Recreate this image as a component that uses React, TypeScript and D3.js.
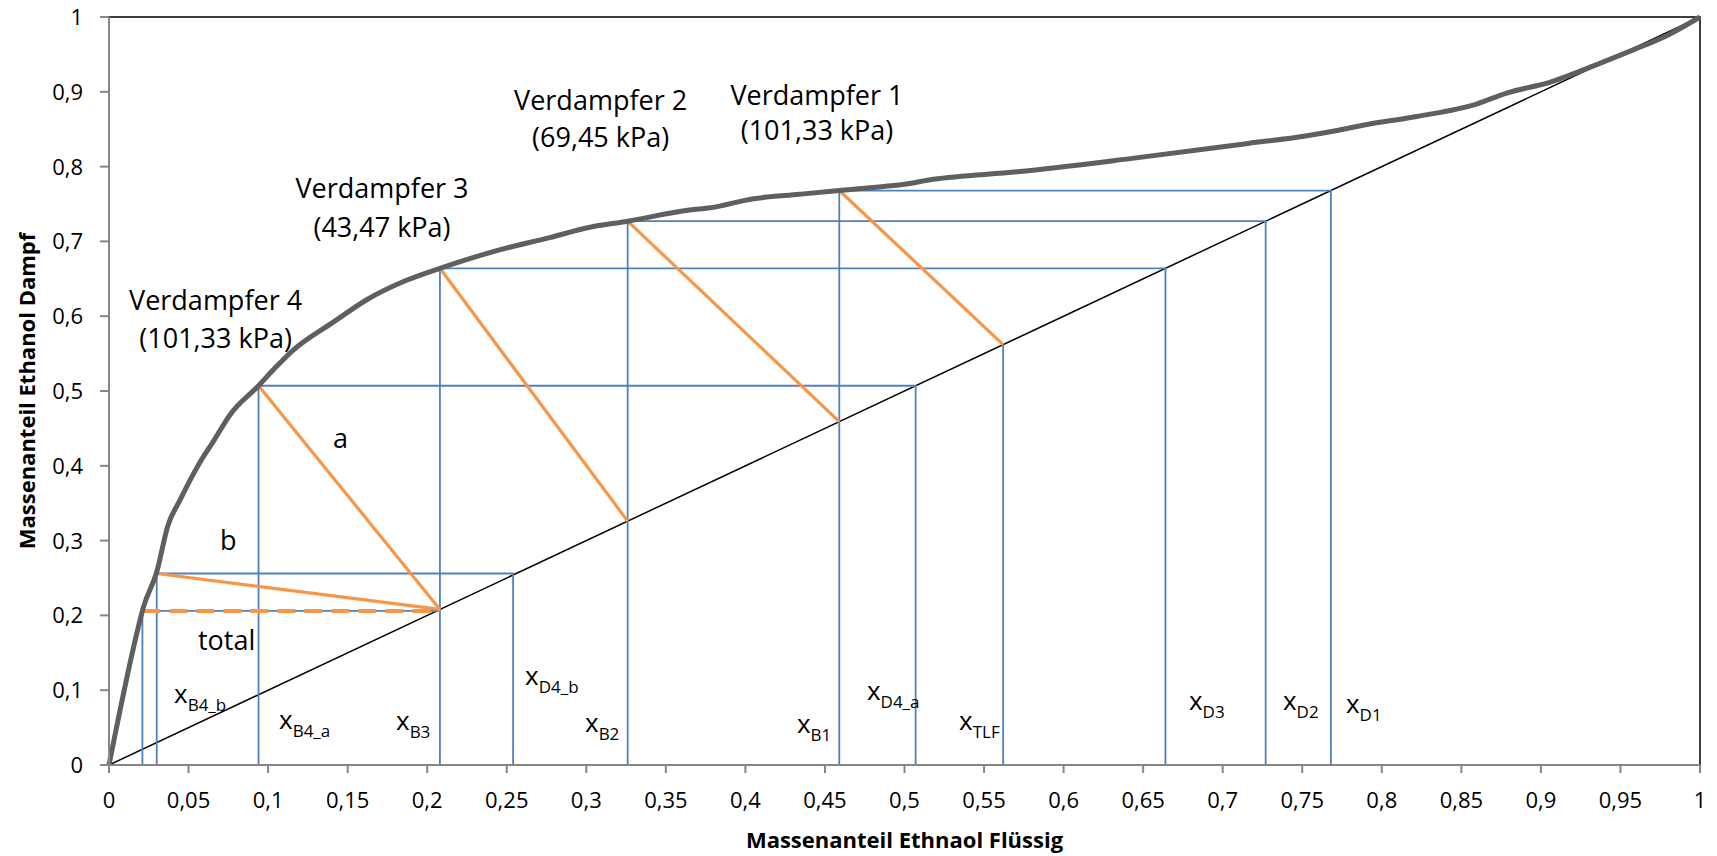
import React from "react";
import * as d3 from "d3";

const width = 1717;
const height = 856;
const margin = { top: 17, right: 17, bottom: 91, left: 109 };

// equilibrium curve (liquid x, vapour y)
const curveX = [0, 0.0185, 0.0215, 0.03, 0.037, 0.0446, 0.057, 0.066, 0.076, 0.094, 0.104, 0.116, 0.141, 0.162, 0.187, 0.208, 0.246, 0.277, 0.3, 0.326, 0.365, 0.378, 0.405, 0.434, 0.459, 0.48, 0.499, 0.518, 0.571, 0.643, 0.716, 0.752, 0.771, 0.79, 0.822, 0.86, 0.878, 0.906, 0.937, 0.958, 0.979, 1];
const curveY = [0, 0.185, 0.21, 0.258, 0.32, 0.354, 0.404, 0.434, 0.468, 0.507, 0.53, 0.555, 0.592, 0.622, 0.648, 0.664, 0.689, 0.705, 0.718, 0.727, 0.742, 0.745, 0.757, 0.763, 0.768, 0.772, 0.776, 0.783, 0.793, 0.811, 0.831, 0.841, 0.848, 0.856, 0.867, 0.884, 0.898, 0.913, 0.938, 0.956, 0.975, 1];

// evaporator stages: bottoms x, vapour y, distillate x, feed point on diagonal
const stageXB = [0.459, 0.326, 0.208, 0.094, 0.03];
const stageY = [0.768, 0.727, 0.664, 0.507, 0.256];
const stageXD = [0.768, 0.727, 0.664, 0.507, 0.254];
const stageFeed = [0.562, 0.459, 0.326, 0.208, 0.208];

// total
const totalX = 0.021;
const totalY = 0.206;
const totalEnd = 0.208;
const xTLF = 0.562;

const xTicks = [0, 0.05, 0.1, 0.15, 0.2, 0.25, 0.3, 0.35, 0.4, 0.45, 0.5, 0.55, 0.6, 0.65, 0.7, 0.75, 0.8, 0.85, 0.9, 0.95, 1];
const yTicks = [0, 0.1, 0.2, 0.3, 0.4, 0.5, 0.6, 0.7, 0.8, 0.9, 1];

// annotation text, anchored in data units
const stageNames = ["Verdampfer 1", "Verdampfer 2", "Verdampfer 3", "Verdampfer 4"];
const stagePress = ["(101,33 kPa)", "(69,45 kPa)", "(43,47 kPa)", "(101,33 kPa)"];
const stageLabelX = [0.445, 0.309, 0.1716, 0.067];
const stageLabelY = [0.882, 0.876, 0.758, 0.608];
const stagePressY = [0.836, 0.826, 0.706, 0.5575];

const plainLabels = ["a", "b", "total"];
const plainX = [0.1408, 0.0698, 0.0559];
const plainY = [0.424, 0.287, 0.154];

const subLabels = ["B4_b", "B4_a", "B3", "D4_b", "B2", "B1", "D4_a", "TLF", "D3", "D2", "D1"];
const subX = [0.0409, 0.1069, 0.1804, 0.2615, 0.2992, 0.4324, 0.4764, 0.5343, 0.6788, 0.7379, 0.7775];
const subY = [0.0829, 0.0481, 0.0468, 0.107, 0.0441, 0.0428, 0.0869, 0.0468, 0.0735, 0.0735, 0.0695];

const font = "'Open Sans', 'Noto Sans', sans-serif";
const blue = "#4F81BD";
const orange = "#F79646";

const fmt = (v: number) => String(+v.toFixed(2)).replace(".", ",");

export default function App() {
  const innerW = width - margin.left - margin.right;
  const innerH = height - margin.top - margin.bottom;
  const x = d3.scaleLinear().domain([0, 1]).range([margin.left, margin.left + innerW]);
  const y = d3.scaleLinear().domain([0, 1]).range([margin.top + innerH, margin.top]);

  const curve = d3
    .line<number>()
    .x((d) => x(d))
    .y((_, i) => y(curveY[i]))
    .curve(d3.curveMonotoneX);

  const seg = (x1: number, y1: number, x2: number, y2: number) =>
    `M${x(x1)},${y(y1)}L${x(x2)},${y(y2)}`;

  const blueLines: string[] = [];
  stageXB.forEach((xb, i) => {
    blueLines.push(
      `M${x(xb)},${y(0)}L${x(xb)},${y(stageY[i])}L${x(stageXD[i])},${y(stageY[i])}L${x(stageXD[i])},${y(0)}`
    );
  });
  blueLines.push(`M${x(totalX)},${y(0)}L${x(totalX)},${y(totalY)}L${x(totalEnd)},${y(totalY)}`);
  blueLines.push(seg(xTLF, xTLF, xTLF, 0));

  const bottom = y(0);
  const left = x(0);

  return (
    <svg
      width={width}
      height={height}
      style={{ position: "absolute", left: 0, top: 0, background: "#fff" }}
      fontFamily={font}
    >
      <rect x={0} y={0} width={width} height={height} fill="#fff" />

      {/* top/right frame */}
      <path d={`M${left},${y(1)}L${x(1)},${y(1)}L${x(1)},${bottom}`} fill="none" stroke="#000" strokeWidth={1.5} />

      {/* diagonal */}
      <path d={seg(0, 0, 1, 1)} stroke="#000" strokeWidth={1.5} />

      {blueLines.map((d, i) => (
        <path key={"b" + i} d={d} fill="none" stroke={blue} strokeWidth={1.8} />
      ))}

      {stageXB.map((xb, i) => (
        <path key={"o" + i} d={seg(xb, stageY[i], stageFeed[i], stageFeed[i])} stroke={orange} strokeWidth={3.2} />
      ))}
      <path d={seg(totalX, totalY, totalEnd, totalY)} stroke={orange} strokeWidth={4} strokeDasharray="18 9" />

      <path d={curve(curveX) || ""} fill="none" stroke="#5f5f5f" strokeWidth={5} strokeLinejoin="round" />

      {/* axes */}
      <path d={`M${left},${y(1)}L${left},${bottom}L${x(1)},${bottom}`} fill="none" stroke="#868686" strokeWidth={2} />
      {yTicks.map((t) => (
        <g key={"yt" + t}>
          <line x1={left - 9} x2={left} y1={y(t)} y2={y(t)} stroke="#868686" strokeWidth={2} />
          <text x={left - 26} y={y(t)} dy="0.36em" textAnchor="end" fontSize={22} fill="#000">
            {fmt(t)}
          </text>
        </g>
      ))}
      {xTicks.map((t) => (
        <g key={"xt" + t}>
          <line x1={x(t)} x2={x(t)} y1={bottom} y2={bottom + 8} stroke="#868686" strokeWidth={2} />
          <text x={x(t)} y={bottom + 43} textAnchor="middle" fontSize={22} fill="#000">
            {fmt(t)}
          </text>
        </g>
      ))}

      <text x={(left + x(1)) / 2} y={848} textAnchor="middle" fontSize={22} fontWeight="bold">
        Massenanteil Ethnaol Flüssig
      </text>
      <text
        transform={`translate(35,${(y(0) + y(1)) / 2}) rotate(-90)`}
        textAnchor="middle"
        fontSize={22}
        fontWeight="bold"
      >
        Massenanteil Ethanol Dampf
      </text>

      {stageNames.map((n, i) => (
        <g key={"s" + i}>
          <text x={x(stageLabelX[i])} y={y(stageLabelY[i])} textAnchor="middle" fontSize={27}>
            {n}
          </text>
          <text x={x(stageLabelX[i])} y={y(stagePressY[i])} textAnchor="middle" fontSize={27}>
            {stagePress[i]}
          </text>
        </g>
      ))}

      {plainLabels.map((l, i) => (
        <text key={"p" + i} x={x(plainX[i])} y={y(plainY[i])} fontSize={27}>
          {l}
        </text>
      ))}

      {subLabels.map((l, i) => (
        <text key={"x" + i} x={x(subX[i])} y={y(subY[i])} fontSize={26}>
          x
          <tspan dy={8} fontSize={17}>
            {l}
          </tspan>
        </text>
      ))}
    </svg>
  );
}
